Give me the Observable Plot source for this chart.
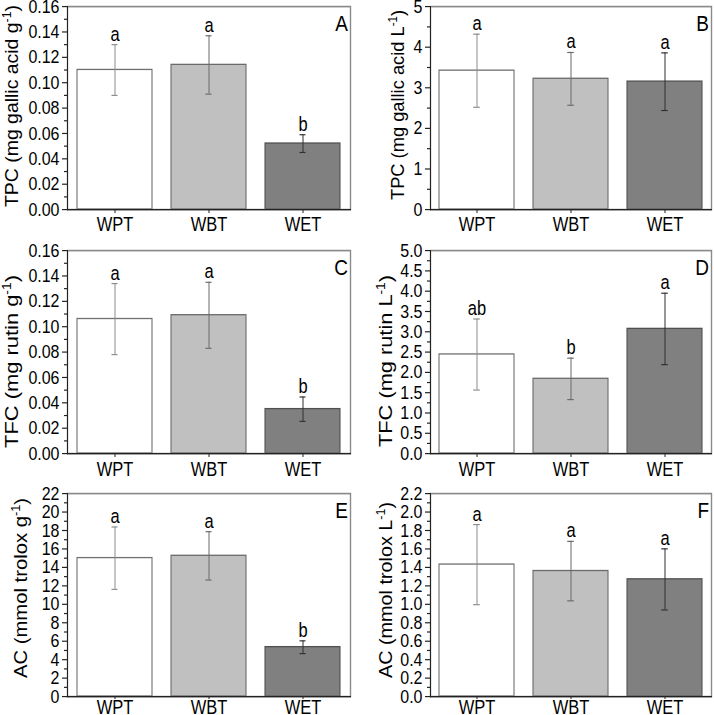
<!DOCTYPE html>
<html><head><meta charset="utf-8">
<script src="https://cdn.jsdelivr.net/npm/d3@7"></script>
<script src="https://cdn.jsdelivr.net/npm/@observablehq/plot@0.6"></script>
<style>
body{margin:0;background:#fff;}
#grid{position:relative;width:714px;height:715px;overflow:hidden;background:#fff;}
.panel{position:absolute;}
</style></head><body><div id="grid"></div>
<script>
// ---- data ----
const categories = ["WPT", "WBT", "WET"];
const panelLetters = ["A", "B", "C", "D", "E", "F"];

const tpcPerG   = [0.110, 0.114, 0.052];
const tpcPerGSd = [0.020, 0.023, 0.007];
const tpcPerL   = [3.42, 3.22, 3.15];
const tpcPerLSd = [0.90, 0.65, 0.71];
const tfcPerG   = [0.106, 0.109, 0.035];
const tfcPerGSd = [0.028, 0.026, 0.0096];
const tfcPerL   = [2.44, 1.84, 3.07];
const tfcPerLSd = [0.875, 0.51, 0.88];
const acPerG    = [15.0, 15.25, 5.35];
const acPerGSd  = [3.38, 2.62, 0.69];
const acPerL    = [1.43, 1.36, 1.27];
const acPerLSd  = [0.434, 0.322, 0.331];

const lettersA = ["a", "a", "b"];
const lettersB = ["a", "a", "a"];
const lettersC = ["a", "a", "b"];
const lettersD = ["ab", "b", "a"];
const lettersE = ["a", "a", "b"];
const lettersF = ["a", "a", "a"];

const yTitles = ["TPC (mg gallic acid g", "TPC (mg gallic acid L", "TFC (mg rutin g",
                 "TFC (mg rutin L", "AC (mmol trolox g", "AC (mmol trolox L"];
const yTitleSup = "-1";

const ticksA = [0, 0.02, 0.04, 0.06, 0.08, 0.10, 0.12, 0.14, 0.16];
const ticksB = [0, 1, 2, 3, 4, 5];
const ticksC = [0, 0.02, 0.04, 0.06, 0.08, 0.10, 0.12, 0.14, 0.16];
const ticksD = [0, 0.5, 1, 1.5, 2, 2.5, 3, 3.5, 4, 4.5, 5];
const ticksE = [0, 2, 4, 6, 8, 10, 12, 14, 16, 18, 20, 22];
const ticksF = [0, 0.2, 0.4, 0.6, 0.8, 1.0, 1.2, 1.4, 1.6, 1.8, 2.0, 2.2];
const minorStep = [0.01, 0.5, 0.01, 0.25, 1, 0.1];
const tickDecimals = [2, 0, 2, 1, 0, 1];

const panelMeans = [tpcPerG, tpcPerL, tfcPerG, tfcPerL, acPerG, acPerL];
const panelSds = [tpcPerGSd, tpcPerLSd, tfcPerGSd, tfcPerLSd, acPerGSd, acPerLSd];
const panelLettersSig = [lettersA, lettersB, lettersC, lettersD, lettersE, lettersF];
const panelTicks = [ticksA, ticksB, ticksC, ticksD, ticksE, ticksF];

// ---- styles / layout ----
const FONT = "'Liberation Sans', Arial, sans-serif";
const barFill = ["#ffffff", "#c0c0c0", "#808080"];
const barStroke = ["#707070", "#6a6a6a", "#505050"];
const errStroke = ["#8c8c8c", "#6a6a6a", "#303030"];
const S = 1.18;          // vertical stretch of the original figure
const W = 357, H = 244;
const layout = [
  {left: 0,   top: 0,   ml: 67, mr: 7, tx: 18, ty: 106,   tl: 202, xs: 4, xp: 4},
  {left: 357, top: 0,   ml: 73, mr: 3, tx: 47, ty: 105,   tl: 190, xs: 4, xp: 4},
  {left: 0,   top: 244, ml: 67, mr: 7, tx: 18, ty: 117.5, tl: 173, xs: 4, xp: 5},
  {left: 357, top: 244, ml: 73, mr: 3, tx: 35, ty: 117,   tl: 172, xs: 4, xp: 5},
  {left: 0,   top: 487, ml: 67, mr: 7, tx: 27, ty: 101,   tl: 180, xs: 3, xp: 1},
  {left: 357, top: 487, ml: 73, mr: 3, tx: 35, ty: 103,   tl: 176, xs: 3, xp: 1},
];
const padIn = 0.2, padOut = 0.09;
const grid = document.getElementById("grid");

panelLetters.forEach((letter, p) => {
  const L = layout[p];
  const rows = categories.map((cat, i) => ({
    i, cat, mean: panelMeans[p][i], sd: panelSds[p][i], letter: panelLettersSig[p][i]
  }));
  const ticks = panelTicks[p];
  const yMax = ticks[ticks.length - 1];
  const minor = d3.range(0, yMax + 1e-9, minorStep[p]).filter(v => !ticks.some(t => Math.abs(t - v) < 1e-9));
  const plotW = W - L.ml - L.mr;
  const bw = plotW / (categories.length - padIn + 2 * padOut) * (1 - padIn);
  const capInset = (bw - 7) / 2;

  const svg = Plot.plot({
    width: W,
    height: H / S,
    marginLeft: L.ml,
    marginRight: L.mr,
    marginTop: 6 / S,
    marginBottom: 35 / S,
    style: {fontFamily: FONT, fontSize: "16px", background: "white", color: "#000"},
    x: {domain: categories, paddingInner: padIn, paddingOuter: padOut, label: null},
    y: {domain: [0, yMax], label: null},
    color: {type: "identity"},
    marks: [
      Plot.barY(rows, {x: "cat", y: "mean", fill: d => barFill[d.i], stroke: d => barStroke[d.i], strokeWidth: 1.1}),
      Plot.ruleX(rows, {x: "cat", y1: d => d.mean - d.sd, y2: d => d.mean + d.sd, stroke: d => errStroke[d.i], strokeWidth: 1}),
      Plot.tickY(rows, {x: "cat", y: d => d.mean + d.sd, stroke: d => errStroke[d.i], strokeWidth: 1, insetLeft: capInset, insetRight: capInset}),
      Plot.tickY(rows, {x: "cat", y: d => d.mean - d.sd, stroke: d => errStroke[d.i], strokeWidth: 1, insetLeft: capInset, insetRight: capInset}),
      Plot.text(rows, {x: "cat", y: d => d.mean + d.sd, text: "letter", dy: -4 / S, lineAnchor: "bottom", fontSize: 16.5, fill: "#000"}),
      Plot.text([letter], {text: d => d, frameAnchor: "top-right", dx: -2.5, dy: 8 / S, fontSize: 19, fill: "#000"}),
      Plot.frame({stroke: "#8a8a8a", strokeWidth: 1.4}),
      Plot.frame({anchor: "left", stroke: "#222", strokeWidth: 1}),
      Plot.frame({anchor: "bottom", stroke: "#222", strokeWidth: 1}),
      Plot.axisY({ticks: minor, tickSize: 3, tickFormat: () => "", label: null, stroke: "#222"}),
      Plot.axisY({ticks, tickSize: 5, tickPadding: 3, tickFormat: d => d.toFixed(tickDecimals[p]), fontSize: 16, label: null, stroke: "#222", fill: "#000"}),
      Plot.axisX({tickSize: L.xs / S, tickPadding: L.xp / S, fontSize: 16.5, label: null, stroke: "#222", fill: "#000"})
    ]
  });

  svg.setAttribute("height", H);
  svg.setAttribute("preserveAspectRatio", "none");
  svg.style.height = H + "px";
  svg.style.width = W + "px";
  svg.style.maxWidth = "none";

  // y-axis title with superscript
  const t = d3.select(svg).append("text")
    .attr("transform", `translate(${L.tx},${L.ty / S}) rotate(-90)`)
    .attr("text-anchor", "middle")
    .attr("font-family", FONT)
    .attr("font-size", 19)
    .attr("fill", "#000")
    .attr("textLength", L.tl / S)
    .attr("lengthAdjust", "spacingAndGlyphs");
  t.append("tspan").text(yTitles[p]);
  t.append("tspan").attr("font-size", 12).attr("dy", -7.5).text(yTitleSup);
  t.append("tspan").attr("dy", 7.5).text(")");

  const div = document.createElement("div");
  div.className = "panel";
  div.style.left = L.left + "px";
  div.style.top = L.top + "px";
  div.appendChild(svg);
  grid.appendChild(div);
});
</script>
</body></html>
